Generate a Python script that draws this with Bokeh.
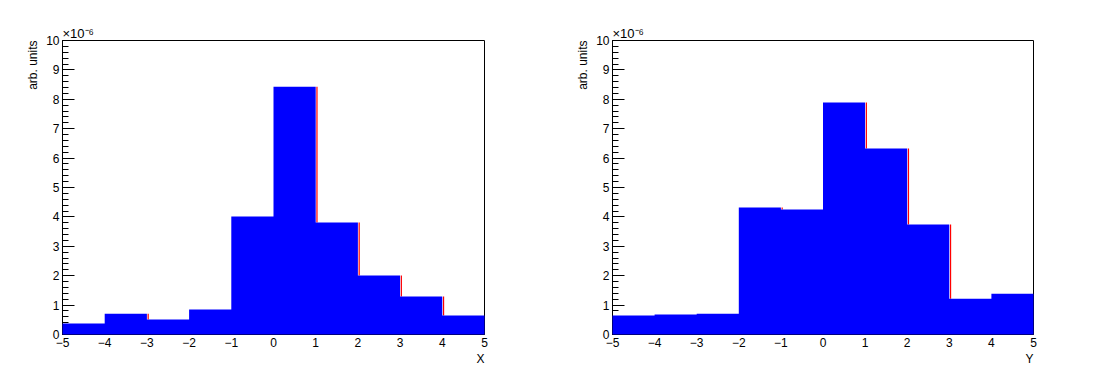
from bokeh.plotting import figure
from bokeh.layouts import row
from bokeh.models import FixedTicker, Range1d, Title
from bokeh.embed import file_html
from bokeh.resources import INLINE

# bin edges (10 bins from -5 to 5)
bin_edges = [-5, -4, -3, -2, -1, 0, 1, 2, 3, 4, 5]
# contents in units of 1e-6 (arb. units)
x_hist = [0.37, 0.71, 0.51, 0.85, 4.01, 8.43, 3.81, 2.01, 1.29, 0.65]
y_hist = [0.65, 0.68, 0.71, 4.32, 4.25, 7.89, 6.33, 3.74, 1.22, 1.39]
x_ticks = [-5, -4, -3, -2, -1, 0, 1, 2, 3, 4, 5]
y_ticks = [0, 1, 2, 3, 4, 5, 6, 7, 8, 9, 10]
panels = [("X", x_hist), ("Y", y_hist)]

FONT = "Liberation Sans"


def make_panel(title, vals, left_border):
    p = figure(width=549, height=376, output_backend="svg", toolbar_location=None,
               x_range=Range1d(-5, 5), y_range=Range1d(0, 10),
               min_border_left=left_border, min_border_right=65,
               min_border_top=40, min_border_bottom=42)
    p.xgrid.visible = False
    p.ygrid.visible = False
    p.outline_line_color = "black"
    p.outline_line_width = 1
    p.outline_line_alpha = 1
    p.background_fill_color = "white"
    p.border_fill_color = "white"

    # red outline edges (slightly shifted), visible where the histogram steps down
    xs, y0s, y1s = [], [], []
    for i in range(len(vals) - 1):
        if vals[i + 1] < vals[i]:
            xs.append(bin_edges[i + 1] + 0.03)
            y0s.append(vals[i + 1])
            y1s.append(vals[i])
    p.segment(x0=xs, y0=y0s, x1=xs, y1=y1s, line_color="red", line_width=1.2)

    # filled histogram as one stepped area
    p.varea_step(x=bin_edges, y1=[0] * len(bin_edges), y2=list(vals) + [vals[-1]],
                 step_mode="after", fill_color="#0000ff", level="overlay")

    # y axis
    ya = p.yaxis[0]
    ya.ticker = FixedTicker(ticks=y_ticks,
                            minor_ticks=[i * 0.2 for i in range(51)])
    ya.major_tick_in = 12
    ya.major_tick_out = 0
    ya.minor_tick_in = 6
    ya.minor_tick_out = 0
    ya.major_tick_line_color = "black"
    ya.minor_tick_line_color = "black"
    ya.axis_line_color = "black"
    ya.major_label_text_font = FONT
    ya.major_label_text_font_size = "12px"
    ya.major_label_text_color = "black"
    ya.major_label_standoff = 3

    # x axis
    xa = p.xaxis[0]
    xa.ticker = FixedTicker(ticks=x_ticks, minor_ticks=[])
    xa.major_tick_in = 0
    xa.major_tick_out = 0
    xa.minor_tick_in = 0
    xa.minor_tick_out = 0
    xa.axis_line_color = "black"
    xa.major_label_text_font = FONT
    xa.major_label_text_font_size = "12px"
    xa.major_label_text_color = "black"
    xa.major_label_standoff = 3
    xa.major_label_overrides = {t: (("\u2212%d" % -t) if t < 0 else str(t)) for t in x_ticks}

    # axis titles
    p.add_layout(Title(text=title, align="right", text_font=FONT, text_font_size="12px",
                       text_font_style="normal", text_color="black", standoff=0,
                       offset=0), "below")
    p.add_layout(Title(text="arb. units", align="right", text_font=FONT,
                       text_font_size="12px", text_font_style="normal",
                       text_color="black", standoff=8, offset=0), "left")
    p.add_layout(Title(text="\u00d710\u207b\u2076", align="left", text_font=FONT,
                       text_font_size="13px", text_font_style="normal",
                       text_color="black", standoff=0, offset=0), "above")
    return p


p1 = make_panel(panels[0][0], panels[0][1], 62)
p2 = make_panel(panels[1][0], panels[1][1], 63)
layout = row(p1, p2)

open("out.html", "w").write(file_html(layout, INLINE))
